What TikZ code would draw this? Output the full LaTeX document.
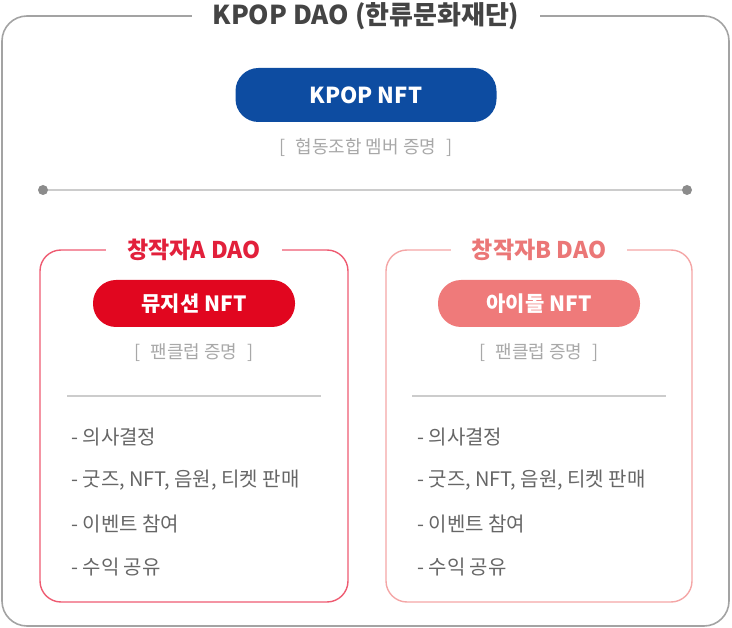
\documentclass[tikz,border=0pt]{standalone}
\usepackage{fontspec}
\setmainfont{Noto Sans CJK KR}
\usetikzlibrary{positioning}

\definecolor{framegray}{HTML}{A3A3A3}
\definecolor{titlegray}{HTML}{444444}
\definecolor{notegray}{HTML}{A8A8A8}
\definecolor{listgray}{HTML}{666666}
\definecolor{linegray}{HTML}{CCCCCC}
\definecolor{dotgray}{HTML}{8C8C8C}
\definecolor{kblue}{HTML}{0D4CA1}
\definecolor{redA}{HTML}{E1061F}
\definecolor{lineA}{HTML}{EE5B71}
\definecolor{titleA}{HTML}{E2203B}
\definecolor{redB}{HTML}{EF7A7A}
\definecolor{lineB}{HTML}{F4A6A6}
\definecolor{titleB}{HTML}{EB7777}

\begin{document}
\begin{tikzpicture}[x=1pt, y=-1pt,
  every node/.style={inner sep=0pt},
  frame/.style={draw=framegray, line width=1.6pt, rounded corners=25pt},
  dao/.style={line width=1.4pt, rounded corners=21pt},
  head/.style={fill=white, inner xsep=21pt, inner ysep=2pt, font=\bfseries},
  pill/.style={rounded corners=23pt, text=white, font=\bfseries\fontsize{22}{24}\selectfont},
  note/.style={text=notegray, font=\fontsize{18}{20}\selectfont},
  sep/.style={draw=linegray, line width=1.4pt},
  item/.style={anchor=west, text=listgray, font=\fontsize{20}{22}\selectfont}
]
\useasboundingbox (0,0) rectangle (732,628);

% --- outer frame ---
\draw[frame] (2,16) rectangle (729,626);
\node[head, text=titlegray, font=\bfseries\fontsize{26}{28}\selectfont] (main) at (366,16) {KPOP DAO (한류문화재단)};

% --- KPOP NFT ---
\node[pill, fill=kblue, minimum width=261pt, minimum height=54pt] (kpop) at (366,95) {KPOP NFT};
\node[note] (member) at (366,148) {[\,\, 협동조합 멤버 증명 \,\,]};

% --- divider with end dots ---
\coordinate (lineL) at (43,190);
\coordinate (lineR) at (687,190);
\draw[sep] (lineL) -- (lineR);
\fill[dotgray] (lineL) circle (5);
\fill[dotgray] (lineR) circle (5);

% --- creator A ---
\draw[dao, draw=lineA] (40,250) rectangle (348,602);
\node[head, text=titleA, font=\bfseries\fontsize{23}{25}\selectfont] (daoA) at (194,250) {창작자A DAO};
\node[pill, fill=redA, minimum width=202pt, minimum height=47pt,
      font=\bfseries\fontsize{21}{23}\selectfont] (nftA) at (194,303.5) {뮤지션 NFT};
\node[note] (fanA) at (194,353) {[\,\, 팬클럽 증명 \,\,]};
\coordinate (sepAL) at (67,396);
\coordinate (sepAR) at (321,396);
\draw[sep] (sepAL) -- (sepAR);

% --- creator B ---
\draw[dao, draw=lineB] (386,250) rectangle (692,602);
\node[head, text=titleB, font=\bfseries\fontsize{23}{25}\selectfont] (daoB) at (539,250) {창작자B DAO};
\node[pill, fill=redB, minimum width=202pt, minimum height=47pt,
      font=\bfseries\fontsize{21}{23}\selectfont] (nftB) at (539,303.5) {아이돌 NFT};
\node[note] (fanB) at (539,353) {[\,\, 팬클럽 증명 \,\,]};
\coordinate (sepBL) at (412,396);
\coordinate (sepBR) at (666,396);
\draw[sep] (sepBL) -- (sepBR);

% --- role lists ---
\foreach \t [count=\i] in {의사결정, {굿즈, NFT, 음원, 티켓 판매}, 이벤트 참여, 수익 공유} {
  \node[item] (a\i) at (71,{437+43.5*(\i-1)}) {- \t};
  \node[item] (b\i) at (417,{437+43.5*(\i-1)}) {- \t};
}

\end{tikzpicture}
\end{document}
